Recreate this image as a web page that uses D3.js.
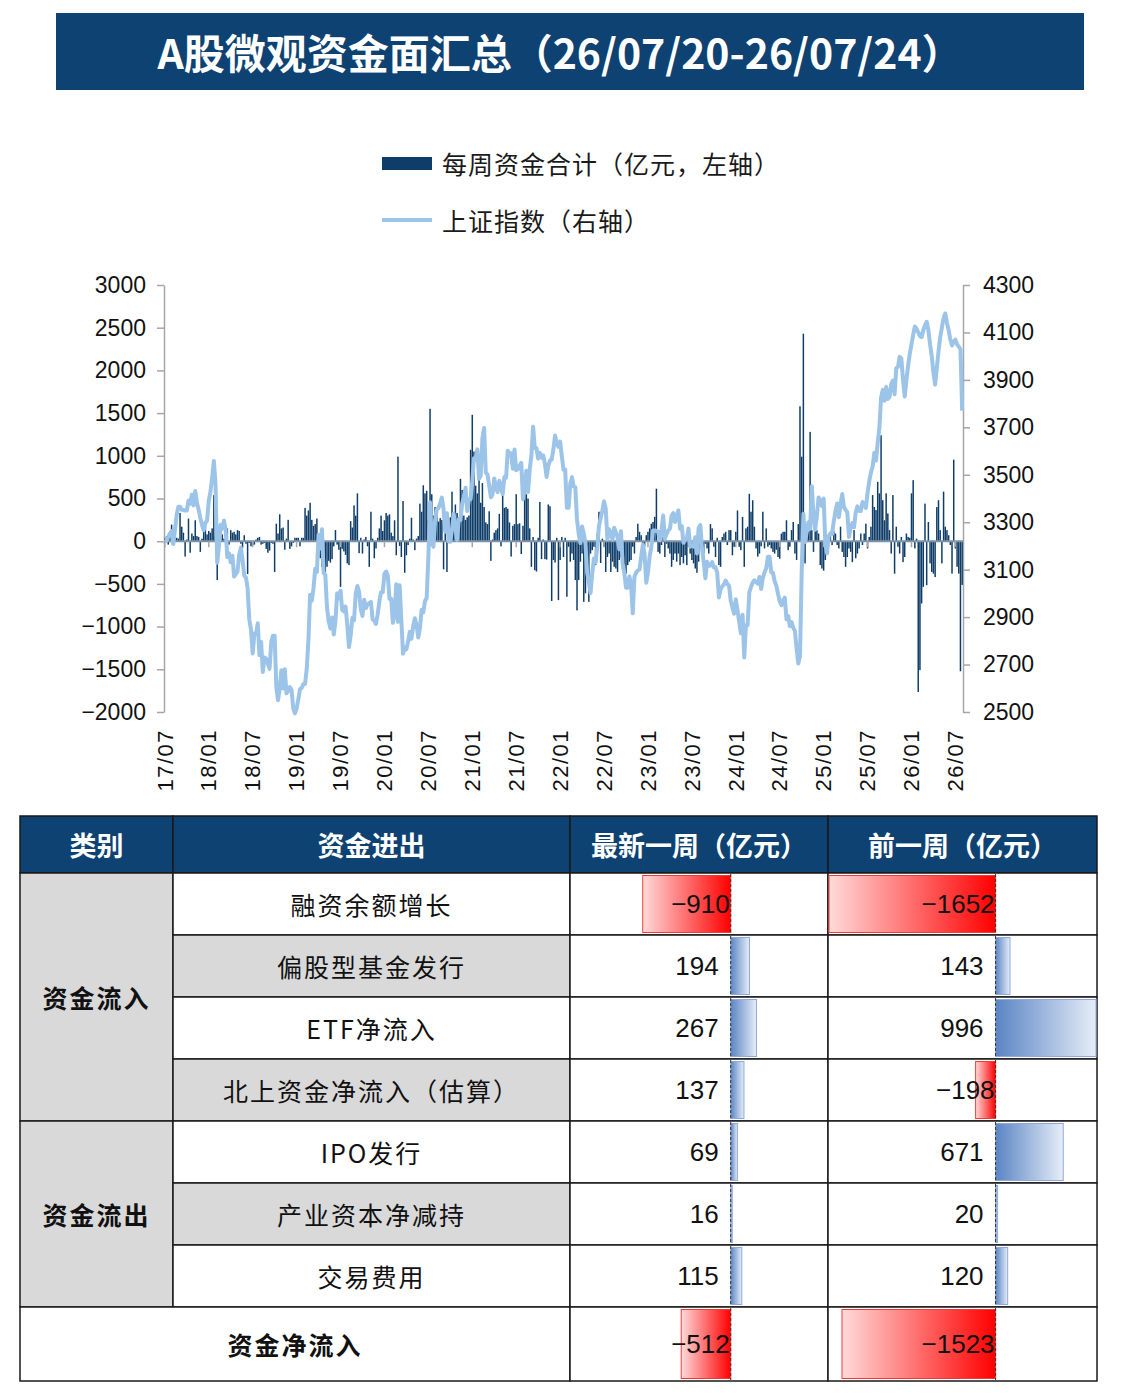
<!DOCTYPE html>
<html>
<head>
<meta charset="utf-8">
<script src="https://cdn.jsdelivr.net/npm/d3@7"></script>
<style>
body { margin: 0; background: #fff; }
text { font-family: "Noto Sans CJK SC", "Liberation Sans", sans-serif; }
</style>
</head>
<body>
<svg id="chart" width="1124" height="1400"></svg>
<script>
//data
var titleText = "A股微观资金面汇总（26/07/20-26/07/24）";
var legendNames = ["每周资金合计（亿元，左轴）", "上证指数（右轴）"];
var tickLabels = ["17/07","18/01","18/07","19/01","19/07","20/01","20/07","21/01","21/07","22/01",
                  "22/07","23/01","23/07","24/01","24/07","25/01","25/07","26/01","26/07"];
var tickEvery = 26; // one label every half year (weeks)

//weekly fund total (100m yuan), one value per week from 17/07 to 26/07/24
var weeklyFlow = [].concat(
  [30,60,-40,100,195,60,40,40,30,330,170,100,-180,20,265,-135,90,60,245,60,50,-125,30,120,170,80],
  [120,100,150,540,60,-455,-30,20,80,30,-20,150,-40,130,100,110,80,130,120,-30,-80,70,-30,-385,-20,-60],
  [-50,-40,20,40,50,-40,-30,-20,-90,-135,-110,-20,-30,-360,205,90,315,150,160,-100,30,250,-90,-60,-20,40],
  [40,40,-60,40,40,390,300,360,450,250,180,200,265,-40,-200,-300,-340,-360,-300,-230,-250,-210,-60,130,-40,-100],
  [-535,-90,-120,-160,-260,-280,235,160,420,300,560,-140,40,-145,20,50,-60,-300,345,30,-200,-85,40,150,300,120],
  [245,330,300,315,100,60,245,-165,990,-55,-185,470,-370,-165,-45,30,275,20,-105,30,60,440,345,655,560,590],
  [250,1550,550,300,400,370,230,270,250,-330,120,-360,60,280,580,190,430,330,280,730,600,300,250,280,300,1070],
  [1480,1050,650,560,720,450,680,400,220,200,350,-230,20,100,130,150,320,-60,650,390,400,380,220,-180,180,200],
  [550,200,210,-150,180,590,550,500,150,-300,50,-340,-355,40,460,-210,20,-210,-215,430,410,-700,-220,-250,40,-690],
  [-220,50,-185,40,-650,-65,-240,-145,-220,-455,-810,-455,-240,-145,-710,-610,-220,-710,-145,-105,-65,-280,90,345,-255,30],
  [-65,-360,-185,-145,-360,-240,-300,-320,-360,-220,-185,-340,-280,-380,-280,-240,-220,-65,-145,50,205,110,70,-30,-65,70],
  [110,150,205,225,285,615,-125,-145,-45,50,-185,-30,-85,-145,-300,-220,-145,-240,-145,-280,-185,-260,-165,-280,-65,-145],
  [-220,-260,-320,-370,-240,-65,70,-145,-30,-85,-145,200,150,-65,-185,40,-280,-300,50,90,110,-45,130,130,-165,-65],
  [110,360,-65,-105,285,-300,150,170,555,345,480,170,-85,-180,-145,-60,345,-85,150,-65,-45,-85,-125,-145,-100,-185],
  [-205,90,110,110,245,-105,-65,130,225,-145,-220,200,1580,990,2430,-260,90,110,1280,130,-125,150,130,90,-280,-320],
  [-345,-220,50,-30,90,-45,120,90,-45,-85,170,-125,-185,-300,-185,-85,-125,-245,130,-200,-145,-85,90,-45,90,205],
  [-85,50,170,540,400,365,695,560,1240,480,245,560,325,130,-145,540,-380,170,-65,-145,50,-245,-185,90,50,40],
  [560,715,-85,30,-1765,-1510,-730,-535,440,-515,225,-260,-360,-380,-420,400,480,130,-260,580,170,130,70,-45,-380,955,-85,-300,-380],
  [-1523,-512]
);

//shanghai composite, weekly close
var shIndex = [].concat(
  [3218,3222,3238,3253,3262,3208,3268,3332,3365,3365,3353,3352,3349,3349,3391,3378,3416,3371,3432,3382,3353,3317,3289,3266,3297,3307],
  [3391,3429,3488,3558,3462,3129,3199,3289,3273,3307,3269,3153,3169,3131,3159,3071,3082,3091,3163,3193,3141,3075,3067,3022,2889,2847,
   2747,2831,2829,2874,2740,2795,2669,2730,2725,2703,2682,2797,2821,2821,2606,2550,2599,2676,2599,2680,2579,2588,2605,2593,2516,2494],
  [2514,2553,2596,2601,2618,2618,2682,2804,2994,2969,3021,3104,3090,3247,3189,3270,3086,3078,2939,2882,2852,2898,2827,2882,3001,2979,
   3011,2930,2924,2944,2867,2774,2823,2897,2886,2999,3031,3006,2932,2905,2973,2938,2954,2958,2964,2891,2885,2871,2912,2967,3005,3005],
  [3083,3092,3075,2977,2977,2876,2917,3039,2880,3034,2887,2746,2772,2764,2797,2838,2809,2860,2895,2868,2814,2852,2931,2920,2968,2980,
   3153,3384,3215,3197,3310,3354,3360,3380,3404,3355,3260,3338,3219,3218,3272,3336,3278,3225,3312,3310,3378,3408,3445,3347,3395,3397],
  [3473,3570,3566,3607,3483,3497,3655,3697,3509,3502,3454,3405,3418,3484,3451,3427,3475,3447,3419,3491,3487,3601,3592,3590,3525,3607,
   3519,3525,3539,3550,3397,3458,3517,3427,3522,3581,3703,3613,3613,3568,3592,3572,3582,3547,3491,3539,3560,3564,3607,3666,3632,3618,3640],
  [3579,3521,3522,3361,3361,3462,3490,3451,3447,3309,3251,3212,3282,3252,3211,3087,3047,3001,3084,3147,3131,3196,3285,3317,3350,3388,
   3357,3228,3270,3253,3227,3277,3258,3236,3186,3262,3126,3088,3024,3024,3071,3038,2916,3070,3087,3097,3101,3156,3206,3167,3045,3089],
  [3157,3195,3265,3265,3263,3260,3224,3267,3328,3230,3250,3265,3273,3327,3338,3301,3323,3350,3272,3284,3213,3230,3231,3273,3197,3202,
   3197,3237,3168,3276,3288,3189,3132,3064,3133,3116,3117,3132,3110,3110,3088,2983,3017,3030,3038,3054,3040,3032,2969,2942,2914,2975],
  [2929,2881,2832,2910,2730,2866,2866,3004,3027,3046,3055,3048,3041,3069,3019,3065,3088,3105,3154,3154,3089,3087,3051,3032,2998,2967,
   2950,2971,2982,2891,2905,2862,2879,2855,2842,2765,2704,2736,3088,3336,3217,3261,3300,3272,3452,3330,3268,3326,3404,3391,3368,3400],
  [3211,3169,3241,3253,3251,3304,3347,3379,3321,3373,3419,3364,3352,3342,3238,3277,3296,3279,3342,3367,3348,3347,3385,3377,3360,3424,
   3473,3510,3534,3593,3560,3635,3697,3825,3858,3812,3870,3820,3828,3883,3897,3839,3950,3955,3997],
  [3990,3900,3830,3900,3960,4010,4050,4090,4125,4115,4100,4085,4080,4110,4130,4145,4110,4050,4000,3930,
   3880,3950,4020,4080,4120,4160,4180,4140,4110,4070,4045,4060,4070,4050,4040,4030,3770]
);

//summary table
var tableHeader = ["类别", "资金进出", "最新一周（亿元）", "前一周（亿元）"];
var groupNames = ["资金流入", "资金流出"];
var groupSizes = [4, 3];
var itemNames = ["融资余额增长", "偏股型基金发行", "ETF净流入", "北上资金净流入（估算）", "IPO发行", "产业资本净减持", "交易费用"];
var latestWeek = [-910, 194, 267, 137, 69, 16, 115];
var prevWeek = [-1652, 143, 996, -198, 671, 20, 120];
var netName = "资金净流入";
var netLatest = -512;
var netPrev = -1523;

var navy = "#0e4272";
var barColor = "#0f3d69";
var lineColor = "#9cc4e9";
var axisColor = "#a6a6a6";
var numFont = "'Liberation Sans', Arial, sans-serif";

var svg = d3.select("#chart");
var defs = svg.append("defs");

//title bar
svg.append("rect")
    .attr("x", 56).attr("y", 13)
    .attr("width", 1028).attr("height", 77)
    .attr("fill", navy);
svg.append("text")
    .attr("x", 560).attr("y", 51)
    .attr("text-anchor", "middle")
    .attr("dominant-baseline", "central")
    .attr("fill", "#fff")
    .style("font-size", "41px")
    .style("font-weight", "bold")
    .text(titleText);

//legend
svg.append("rect")
    .attr("x", 382).attr("y", 157)
    .attr("width", 50).attr("height", 13)
    .attr("fill", barColor);
svg.append("line")
    .attr("x1", 382).attr("x2", 432)
    .attr("y1", 220).attr("y2", 220)
    .attr("stroke", lineColor).attr("stroke-width", 4);
svg.selectAll(".legend-text")
    .data(legendNames)
    .enter()
    .append("text")
    .attr("class", "legend-text")
    .attr("x", 442)
    .attr("y", (d, i) => i == 0 ? 163 : 220)
    .attr("dominant-baseline", "central")
    .attr("fill", "#1a1a1a")
    .style("font-size", "25px")
    .style("letter-spacing", "1px")
    .text(d => d);

//scales
var plot = { left: 164, right: 963, top: 285, bottom: 712 };

var x = d3.scaleBand()
    .domain(d3.range(weeklyFlow.length))
    .range([plot.left, plot.right])
    .paddingInner(0);

var yLeft = d3.scaleLinear()
    .domain([-2000, 3000])
    .range([plot.bottom, plot.top]);

var yRight = d3.scaleLinear()
    .domain([2500, 4300])
    .range([plot.bottom, plot.top]);

//left axis
var axL = svg.append("g")
    .attr("transform", "translate(" + plot.left + ",0)")
    .call(d3.axisLeft(yLeft).tickValues(d3.range(-2000, 3001, 500)).tickFormat(d3.format("d"))
        .tickSize(7).tickSizeOuter(0).tickPadding(11));

//right axis
var axR = svg.append("g")
    .attr("transform", "translate(" + plot.right + ",0)")
    .call(d3.axisRight(yRight).tickValues(d3.range(2500, 4301, 200)).tickFormat(d3.format("d"))
        .tickSize(7).tickSizeOuter(0).tickPadding(13));

[axL, axR].forEach(function (g) {
    g.select(".domain").attr("stroke", axisColor).attr("stroke-width", 1.5);
    g.selectAll(".tick line").attr("stroke", axisColor).attr("stroke-width", 1.5);
    g.selectAll(".tick text")
        .attr("fill", "#111")
        .style("font-family", numFont)
        .style("font-size", "23px");
});

//weekly bars
svg.append("g")
    .selectAll("rect")
    .data(weeklyFlow)
    .enter()
    .append("rect")
    .attr("x", (d, i) => x(i) + 0.1)
    .attr("width", x.bandwidth() - 0.2)
    .attr("y", d => yLeft(Math.max(0, d)))
    .attr("height", d => Math.abs(yLeft(d) - yLeft(0)))
    .attr("fill", barColor);

//zero line acting as category axis
svg.append("line")
    .attr("x1", plot.left).attr("x2", plot.right)
    .attr("y1", yLeft(0)).attr("y2", yLeft(0))
    .attr("stroke", "#7f93a8").attr("stroke-width", 2);

var tickIdx = tickLabels.map((d, k) => k * tickEvery);
svg.append("g")
    .selectAll("line")
    .data(tickIdx)
    .enter()
    .append("line")
    .attr("x1", d => x(d) + x.bandwidth() / 2)
    .attr("x2", d => x(d) + x.bandwidth() / 2)
    .attr("y1", yLeft(0)).attr("y2", yLeft(0) + 6)
    .attr("stroke", axisColor).attr("stroke-width", 1.5);

//rotated date labels
svg.append("g")
    .selectAll("text")
    .data(tickLabels)
    .enter()
    .append("text")
    .attr("transform", (d, k) => "translate(" + (x(tickIdx[k]) + x.bandwidth() / 2) + ",729) rotate(-90)")
    .attr("text-anchor", "end")
    .attr("dy", "0.35em")
    .attr("fill", "#111")
    .style("font-family", numFont)
    .style("font-size", "22px")
    .style("letter-spacing", "1.5px")
    .text(d => d);

//index line on right axis
var indexLine = d3.line()
    .x((d, i) => x(i) + x.bandwidth() / 2)
    .y(d => yRight(d));

svg.append("path")
    .datum(shIndex)
    .attr("d", indexLine)
    .attr("fill", "none")
    .attr("stroke", lineColor)
    .attr("stroke-width", 4)
    .attr("stroke-linejoin", "round");

//---- table ----
var colX = [20, 173, 570, 828, 1097];
var headTop = 816, headH = 57, rowH = 62, netH = 74;
var bodyTop = headTop + headH;
function rowTop(i) { return bodyTop + i * rowH; }
var netTop = rowTop(itemNames.length);

//gradients for data bars
var gNeg = defs.append("linearGradient").attr("id", "negGrad");
gNeg.append("stop").attr("offset", "0%").attr("stop-color", "#ffdada");
gNeg.append("stop").attr("offset", "100%").attr("stop-color", "#ff0000");
var gPos = defs.append("linearGradient").attr("id", "posGrad");
gPos.append("stop").attr("offset", "0%").attr("stop-color", "#5a85c4");
gPos.append("stop").attr("offset", "100%").attr("stop-color", "#e6edf8");

var table = svg.append("g");

//header
table.selectAll(".head-cell")
    .data(tableHeader)
    .enter()
    .append("rect")
    .attr("x", (d, i) => colX[i])
    .attr("y", headTop)
    .attr("width", (d, i) => colX[i + 1] - colX[i])
    .attr("height", headH)
    .attr("fill", navy)
    .attr("stroke", "#1a1a1a").attr("stroke-width", 1.5);
table.selectAll(".head-text")
    .data(tableHeader)
    .enter()
    .append("text")
    .attr("x", (d, i) => (colX[i] + colX[i + 1]) / 2)
    .attr("y", headTop + headH / 2)
    .attr("text-anchor", "middle")
    .attr("dominant-baseline", "central")
    .attr("fill", "#fff")
    .style("font-size", "27px")
    .style("font-weight", "bold")
    .text(d => d);

//group cells (merged)
var groupStart = [0, groupSizes[0]];
groupNames.forEach(function (name, g) {
    var y0 = rowTop(groupStart[g]);
    var h = groupSizes[g] * rowH;
    table.append("rect")
        .attr("x", colX[0]).attr("y", y0)
        .attr("width", colX[1] - colX[0]).attr("height", h)
        .attr("fill", "#d9d9d9")
        .attr("stroke", "#1a1a1a").attr("stroke-width", 1.5);
    table.append("text")
        .attr("x", (colX[0] + colX[1]) / 2)
        .attr("y", y0 + h / 2)
        .attr("text-anchor", "middle")
        .attr("dominant-baseline", "central")
        .attr("fill", "#111")
        .style("font-size", "25px")
        .style("font-weight", "bold")
        .style("letter-spacing", "2px")
        .text(name);
});

//item name cells, alternating grey
itemNames.forEach(function (name, i) {
    table.append("rect")
        .attr("x", colX[1]).attr("y", rowTop(i))
        .attr("width", colX[2] - colX[1]).attr("height", rowH)
        .attr("fill", i % 2 == 1 ? "#d9d9d9" : "#fff")
        .attr("stroke", "#1a1a1a").attr("stroke-width", 1.5);
    table.append("text")
        .attr("x", (colX[1] + colX[2]) / 2)
        .attr("y", rowTop(i) + rowH / 2)
        .attr("text-anchor", "middle")
        .attr("dominant-baseline", "central")
        .attr("fill", "#111")
        .style("font-size", "25px")
        .style("letter-spacing", "2px")
        .text(name);
});

//net row label spans two columns
table.append("rect")
    .attr("x", colX[0]).attr("y", netTop)
    .attr("width", colX[2] - colX[0]).attr("height", netH)
    .attr("fill", "#fff")
    .attr("stroke", "#1a1a1a").attr("stroke-width", 1.5);
table.append("text")
    .attr("x", (colX[0] + colX[2]) / 2)
    .attr("y", netTop + netH / 2)
    .attr("text-anchor", "middle")
    .attr("dominant-baseline", "central")
    .attr("fill", "#111")
    .style("font-size", "25px")
    .style("font-weight", "bold")
    .style("letter-spacing", "2px")
    .text(netName);

//value cells with excel-like data bars, both columns share one range
var allVals = latestWeek.concat(prevWeek, [netLatest, netPrev]);
var barDomain = [d3.min(allVals), d3.max(allVals)];
var fmt = d3.format("d");

function valueColumn(values, c) {
    var bx = d3.scaleLinear().domain(barDomain).range([colX[c] + 1, colX[c + 1] - 1]);
    var zero = bx(0);
    values.forEach(function (v, i) {
        var top = v.top, h = v.h;
        table.append("rect")
            .attr("x", colX[c]).attr("y", top)
            .attr("width", colX[c + 1] - colX[c]).attr("height", h)
            .attr("fill", "#fff")
            .attr("stroke", "#1a1a1a").attr("stroke-width", 1.5);
        table.append("rect")
            .attr("x", Math.min(bx(v.val), zero))
            .attr("y", top + 2.5)
            .attr("width", Math.abs(bx(v.val) - zero))
            .attr("height", h - 5)
            .attr("fill", v.val < 0 ? "url(#negGrad)" : "url(#posGrad)")
            .attr("stroke", v.val < 0 ? "#f03a3a" : "#8faad6")
            .attr("stroke-width", 1);
        table.append("line")
            .attr("x1", zero).attr("x2", zero)
            .attr("y1", top + 1).attr("y2", top + h - 1)
            .attr("stroke", "#333").attr("stroke-width", 1)
            .attr("stroke-dasharray", "3,2");
        table.append("text")
            .attr("x", v.val < 0 ? zero - 1 : zero - 12)
            .attr("y", top + h / 2)
            .attr("text-anchor", "end")
            .attr("dominant-baseline", "central")
            .attr("fill", "#111")
            .style("font-family", numFont)
            .style("font-size", "26px")
            .text(fmt(v.val));
    });
}

function cellsFor(list, net) {
    var out = list.map((v, i) => ({ val: v, top: rowTop(i), h: rowH }));
    out.push({ val: net, top: netTop, h: netH });
    return out;
}
valueColumn(cellsFor(latestWeek, netLatest), 2);
valueColumn(cellsFor(prevWeek, netPrev), 3);
</script>
</body>
</html>
